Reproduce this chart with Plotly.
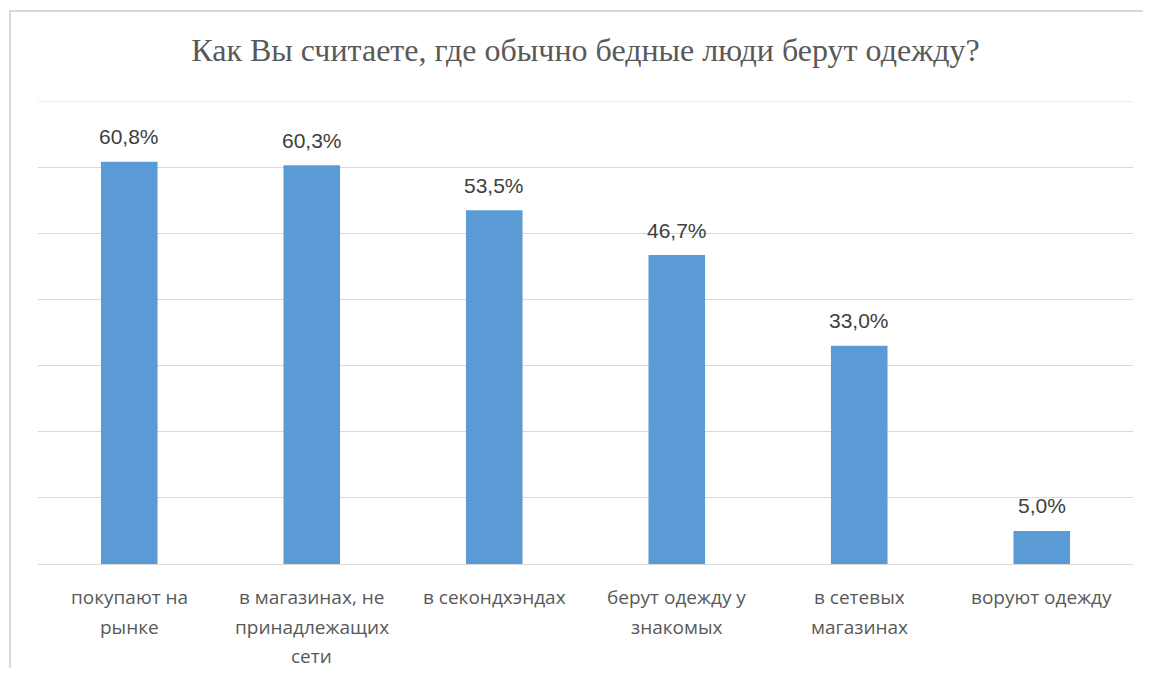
import plotly.graph_objects as go

categories = ["покупают на рынке", "в магазинах, не принадлежащих сети", "в секондхэндах",
              "берут одежду у знакомых", "в сетевых магазинах", "воруют одежду"]
label_lines = [["покупают на", "рынке"],
               ["в магазинах, не", "принадлежащих", "сети"],
               ["в секондхэндах"],
               ["берут одежду у", "знакомых"],
               ["в сетевых", "магазинах"],
               ["воруют одежду"]]
values = [60.8, 60.3, 53.5, 46.7, 33.0, 5.0]
value_labels = ["60,8%", "60,3%", "53,5%", "46,7%", "33,0%", "5,0%"]
grid_values = [0, 10, 20, 30, 40, 50, 60, 70]
title_text = "Как Вы считаете, где обычно бедные люди берут одежду?"

# page body has an 8px margin; figure is sized to fit inside the window
W, H = 1135, 660
L, R, T, B = 30, 10, 93, 104
pw, ph = W - L - R, H - T - B

fig = go.Figure()
fig.add_trace(go.Bar(x=categories, y=values, marker=dict(color="#5b9bd5", line=dict(width=0)),
                     width=0.31, hoverinfo="skip"))

ann = []
for c, v, t in zip(categories, values, value_labels):
    ann.append(dict(x=c, y=v, xref="x", yref="y", text=t, showarrow=False,
                    yanchor="middle", yshift=25,
                    font=dict(family="Liberation Sans", size=21, color="#404040")))
for c, lines in zip(categories, label_lines):
    for i, ln in enumerate(lines):
        ann.append(dict(x=c, y=0, xref="x", yref="y", text=ln, showarrow=False,
                        yanchor="middle", yshift=-(33 + 29.5 * i),
                        font=dict(family="Open Sans", size=19, color="#595959")))

def px_x(p):
    return (p - L) / pw

def px_y(p):
    return (H - B - p) / ph

shapes = [dict(type="rect", xref="paper", yref="paper",
               x0=px_x(2), x1=px_x(1160), y0=px_y(700), y1=px_y(3),
               line=dict(color="#d9d9d9", width=2), fillcolor="rgba(0,0,0,0)", layer="below")]
# top gridline (plotly omits the one at the upper range edge)
shapes.append(dict(type="line", xref="paper", yref="y", x0=0, x1=1,
                   y0=grid_values[-1], y1=grid_values[-1],
                   line=dict(color="#d9d9d9", width=1), layer="below"))

fig.update_layout(
    width=W, height=H,
    margin=dict(l=L, r=R, t=T, b=B),
    paper_bgcolor="white", plot_bgcolor="white",
    showlegend=False,
    title=dict(text=title_text, x=0.5, xref="paper", y=1 - 42 / H, yanchor="middle",
               font=dict(family="Liberation Serif", size=32, color="#595959")),
    xaxis=dict(showticklabels=False, showgrid=False, zeroline=False, showline=False,
               ticks="", fixedrange=True),
    yaxis=dict(range=[0, 70], tickvals=grid_values,
               showticklabels=False, showgrid=True,
               gridcolor="#d9d9d9", gridwidth=1, zeroline=True, zerolinecolor="#d9d9d9",
               zerolinewidth=1, showline=False, ticks="", fixedrange=True),
    annotations=ann,
    shapes=shapes,
)

fig.write_html("out.html")
